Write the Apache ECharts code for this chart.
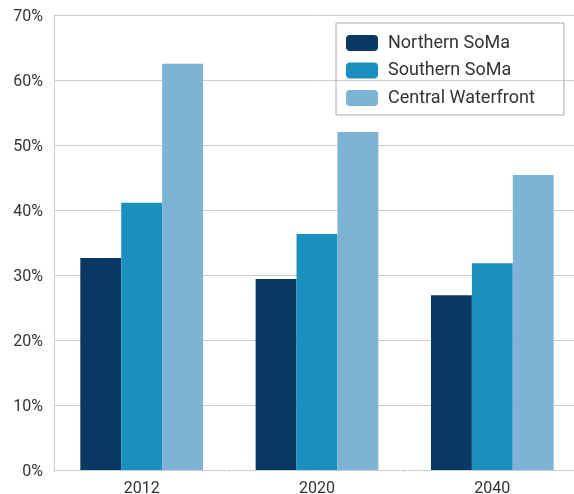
<!DOCTYPE html>
<html>
  <head>
    <meta charset="utf-8" />
    <title>SoMa chart</title>
    <script src="https://cdn.jsdelivr.net/npm/echarts@6/dist/echarts.min.js"></script>
  </head>
  <body style="margin:0">
    <div id="main" style="width: 574px; height: 494px"></div>
    <script>
      var years = ["2012", "2020", "2040"];
      var northern = [32.6, 29.4, 26.9];
      var southern = [41.1, 36.3, 31.8];
      var central = [62.5, 52.0, 45.4];

      var myChart = echarts.init(document.getElementById("main"));
      var font = "Roboto";

      var option = {
        animation: false,
        backgroundColor: "#fff",
        textStyle: { fontFamily: font },
        grid: { left: 54, top: 15, width: 526, height: 455, containLabel: false, outerBoundsMode: "none" },
        legend: {
          orient: "vertical",
          left: 336,
          top: 23,
          padding: [11, 29, 8, 10],
          itemWidth: 32,
          itemHeight: 16,
          itemGap: 9.5,
          borderColor: "#aaa",
          borderWidth: 1,
          textStyle: { fontSize: 18, lineHeight: 16, color: "#333", fontFamily: font, padding: [0, 0, 0, 5] },
          data: ["Northern SoMa", "Southern SoMa", "Central Waterfront"]
        },
        xAxis: {
          type: "category",
          data: years,
          axisLine: { lineStyle: { color: "#ccc" } },
          axisTick: { show: true, length: 2, lineStyle: { color: "#ccc" } },
          axisLabel: { color: "#333", fontSize: 16, margin: 11 }
        },
        yAxis: {
          type: "value",
          min: 0,
          max: 70,
          interval: 10,
          axisLine: { show: true, lineStyle: { color: "#ccc" } },
          axisTick: { show: false },
          axisLabel: { color: "#333", fontSize: 16, margin: 11, verticalAlign: "top", lineHeight: 4, formatter: "{value}%" },
          splitLine: { lineStyle: { color: "#ccc" } }
        },
        series: [
          {
            name: "Northern SoMa",
            type: "bar",
            data: northern,
            barGap: "0%",
            barCategoryGap: "30%",
            itemStyle: { color: "#0a3a63" }
          },
          {
            name: "Southern SoMa",
            type: "bar",
            data: southern,
            itemStyle: { color: "#1a90bf" }
          },
          {
            name: "Central Waterfront",
            type: "bar",
            data: central,
            itemStyle: { color: "#7fb3d5" }
          }
        ]
      };

      myChart.setOption(option);
    </script>
  </body>
</html>
